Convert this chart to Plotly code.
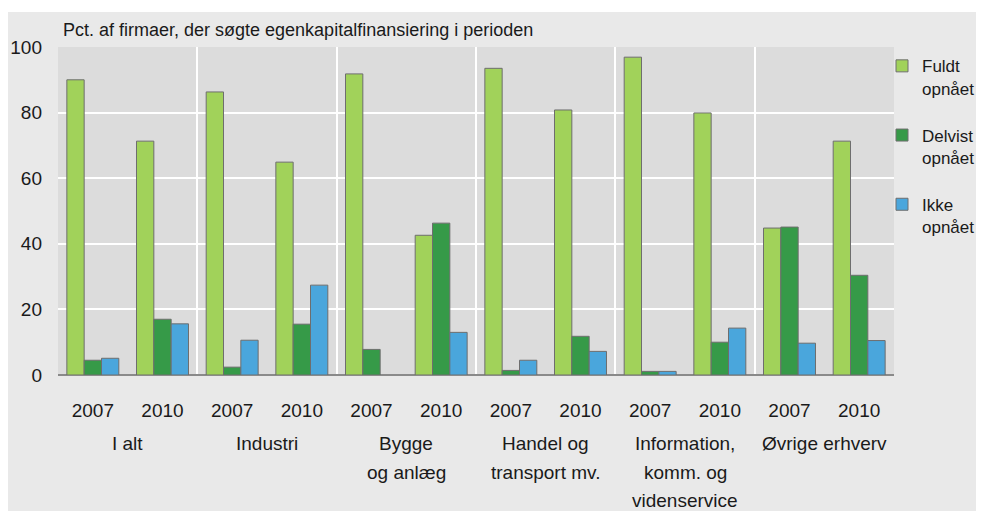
import plotly.graph_objects as go

# ---- data ----
groups = ["I alt", "Industri", "Bygge<br>og anlæg", "Handel og<br>transport mv.",
          "Information,<br>komm. og<br>videnservice", "Øvrige erhverv"]
years = ["2007", "2010"]
fuldt = [90.0, 71.3, 86.3, 64.9, 91.8, 42.6, 93.5, 80.8, 96.9, 79.9, 44.8, 71.3]
delvist = [4.5, 17.0, 2.4, 15.5, 7.8, 46.3, 1.4, 11.8, 1.1, 10.0, 45.1, 30.4]
ikke = [5.1, 15.6, 10.6, 27.4, None, 13.0, 4.5, 7.2, 1.1, 14.3, 9.7, 10.5]
series_names = ["Fuldt<br>opnået", "Delvist<br>opnået", "Ikke<br>opnået"]
y_ticks = [0, 20, 40, 60, 80, 100]
title_text = "Pct. af firmaer, der søgte egenkapitalfinansiering i perioden"

# ---- style ----
colors = ["#a1d25a", "#369a48", "#4aa6dc"]
paper_bg = "#e9e9e9"
plot_bg = "#dcdcdc"
text_col = "#1a1a1a"
font_fam = "Liberation Sans, Arial, sans-serif"
label_size = 19
line_step = 28.6
fig_w, fig_h = 1000, 503
plot_l, plot_r = 50, 886
plot_t, plot_b = 39, 367

n_years = len(years)
x_pos = list(range(len(groups) * n_years))
x_labels = years * len(groups)
separators = [g * n_years - 0.5 for g in range(len(groups) + 1)]
group_centers = [g * n_years + (n_years - 1) / 2 for g in range(len(groups))]

fig = go.Figure()
for i, (name, vals) in enumerate(zip(series_names, [fuldt, delvist, ikke])):
    fig.add_trace(go.Bar(
        x=x_pos, y=vals, name=name, legendgroup=str(i),
        marker=dict(color=colors[i], line=dict(color="#6e6e6e", width=1)),
    ))

for c, g in zip(group_centers, groups):
    for j, line in enumerate(g.split("<br>")):
        fig.add_annotation(x=c, xref="x", y=-0.171, yref="paper", yanchor="top",
                           yshift=-j * line_step, text=line, showarrow=False,
                           font=dict(family=font_fam, size=label_size, color=text_col))

fig.add_annotation(x=0.004, xref="paper", y=1.052, yref="paper",
                   xanchor="left", yanchor="middle", text=title_text,
                   showarrow=False, font=dict(family=font_fam, size=18, color=text_col))

# thin white strip above the grey panel
fig.add_shape(type="rect", xref="paper", yref="paper", x0=-0.2, x1=1.3,
              y0=1.1067, y1=1.3, fillcolor="white", line_width=0, layer="below")

plot_h = plot_b - plot_t
fig.update_layout(
    width=fig_w, height=fig_h,
    margin=dict(l=plot_l, r=fig_w - plot_r, t=plot_t, b=fig_h - plot_b),
    paper_bgcolor=paper_bg, plot_bgcolor=plot_bg,
    barmode="group", bargap=0.254, bargroupgap=0,
    showlegend=True,
    legend=dict(xref="paper", yref="paper",
                x=(874 - plot_l) / (plot_r - plot_l), xanchor="left",
                y=(plot_b - 40.3) / plot_h, yanchor="top",
                font=dict(family=font_fam, size=17, color=text_col),
                tracegroupgap=22, valign="top", bgcolor="rgba(0,0,0,0)"),
    xaxis=dict(range=[-0.5, len(x_pos) - 0.5], tickmode="array", tickvals=x_pos,
               ticktext=x_labels, showgrid=False, zeroline=False, showline=False,
               ticks="", ticklabelstandoff=22, automargin=False,
               tickfont=dict(family=font_fam, size=label_size, color=text_col),
               minor=dict(tickmode="array", tickvals=separators, showgrid=True,
                          gridcolor="white", gridwidth=2, ticks="")),
    yaxis=dict(range=[0, 100], tickmode="array", tickvals=y_ticks,
               showgrid=True, gridcolor="white", gridwidth=2,
               zeroline=True, zerolinecolor="#8a8a8a", zerolinewidth=2,
               showline=False, ticks="", ticklabelstandoff=15, automargin=False,
               tickfont=dict(family=font_fam, size=label_size, color=text_col)),
)

fig.write_html("out.html")
